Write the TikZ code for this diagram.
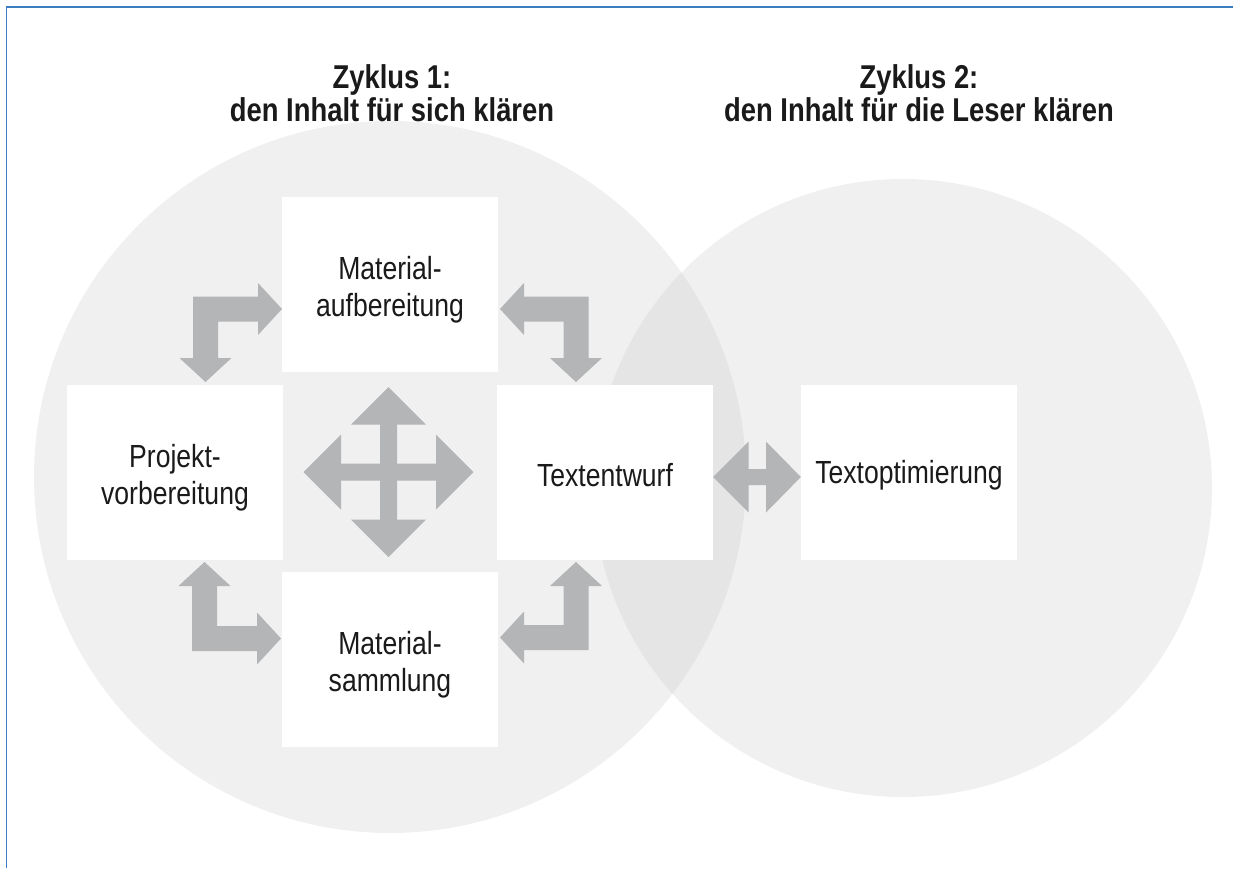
\documentclass[tikz,border=0pt]{standalone}
\usepackage{fontspec}
\setmainfont{Liberation Sans}[FakeStretch=0.83]
\definecolor{circlefill}{HTML}{EFF0EF}
\definecolor{overlapfill}{HTML}{E4E5E4}
\definecolor{arrowgray}{HTML}{B4B5B7}
\definecolor{inktext}{HTML}{1A1A1A}
\definecolor{frameblue}{HTML}{3C7BBF}
% lower the text inside a box without changing the box size
\newcommand{\lowered}[2]{\raisebox{-#1}[\height][\depth]{#2}}
\newcommand{\twolines}[2]{\lowered{6pt}{\begin{tabular}{@{}c@{}}#1\\#2\end{tabular}}}
\tikzset{
  stagebox/.style={fill=white, draw=none, minimum width=216pt, minimum height=175pt,
    inner sep=0pt, align=center, text=inktext,
    font=\fontsize{32}{37.5}\selectfont},
  cycletitle/.style={align=center, text=inktext, inner sep=0pt,
    font=\fontsize{33}{33}\selectfont\bfseries},
  blockarrow/.style={fill=arrowgray, draw=none}
}
\begin{document}
\begin{tikzpicture}[x=1pt, y=-1pt]
  \useasboundingbox (0,0) rectangle (1233,868);
  % frame lines
  \draw[frameblue, line width=1.6pt] (6.5,868) -- (6.5,7) -- (1233,7);

  % the two cycles
  \fill[circlefill] (390,477) circle (356);
  \fill[circlefill] (903,488) circle (309);
  \begin{scope}
    \clip (390,477) circle (356);
    \fill[overlapfill] (903,488) circle (309);
  \end{scope}

  % titles
  \node[cycletitle] (t1) at (392,93) {Zyklus 1:\\den Inhalt für sich klären};
  \node[cycletitle] (t2) at (919,93) {Zyklus 2:\\den Inhalt für die Leser klären};

  % stages
  \node[stagebox] (aufb) at (390,284.5) {\twolines{Material-}{aufbereitung}};
  \node[stagebox] (proj) at (175,472.5) {\twolines{Projekt-}{vorbereitung}};
  \node[stagebox] (entw) at (605,472.5) {\lowered{3pt}{Textentwurf}};
  \node[stagebox] (samm) at (390,659.5) {\twolines{Material-}{sammlung}};
  \node[stagebox] (opti) at (909,472.5) {\lowered{3pt}{Textoptimierung}};

  % corner arrows
  \fill[blockarrow] (193,296.5) -- (258,296.5) -- (258,283) -- (282,309) -- (258,335)
    -- (258,321.5) -- (218,321.5) -- (218,358) -- (231.5,358) -- (205.5,382)
    -- (179.5,358) -- (193,358) -- cycle;
  \fill[blockarrow] (588.5,296.5) -- (524,296.5) -- (524,283) -- (500,309) -- (524,335)
    -- (524,321.5) -- (563.5,321.5) -- (563.5,358) -- (550,358) -- (576,382)
    -- (602,358) -- (588.5,358) -- cycle;
  \fill[blockarrow] (192,651) -- (192,586) -- (178.5,586) -- (204.5,562) -- (230.5,586)
    -- (217,586) -- (217,626) -- (257,626) -- (257,612.5) -- (281,638.5)
    -- (257,664.5) -- (257,651) -- cycle;
  \fill[blockarrow] (588.5,650) -- (588.5,586) -- (602,586) -- (576,562) -- (550,586)
    -- (563.5,586) -- (563.5,625) -- (524,625) -- (524,611.5) -- (500,637.5)
    -- (524,663.5) -- (524,650) -- cycle;

  % four-way arrow in the middle
  \begin{scope}[shift={(388.5,472)}]
    \fill[blockarrow] (0,-85) -- (37.5,-47.5) -- (8.5,-47.5) -- (8.5,-8.5)
      -- (47.5,-8.5) -- (47.5,-37.5) -- (85,0) -- (47.5,37.5) -- (47.5,8.5)
      -- (8.5,8.5) -- (8.5,47.5) -- (37.5,47.5) -- (0,85) -- (-37.5,47.5)
      -- (-8.5,47.5) -- (-8.5,8.5) -- (-47.5,8.5) -- (-47.5,37.5) -- (-85,0)
      -- (-47.5,-37.5) -- (-47.5,-8.5) -- (-8.5,-8.5) -- (-8.5,-47.5)
      -- (-37.5,-47.5) -- cycle;
  \end{scope}

  % double arrow between the cycles
  \fill[blockarrow] (entw.east |- 0,477) -- (748.5,441.5) -- (748.5,469) -- (766,469)
    -- (766,441.5) -- (opti.west |- 0,477) -- (766,512.5) -- (766,485) -- (748.5,485)
    -- (748.5,512.5) -- cycle;
\end{tikzpicture}
\end{document}
